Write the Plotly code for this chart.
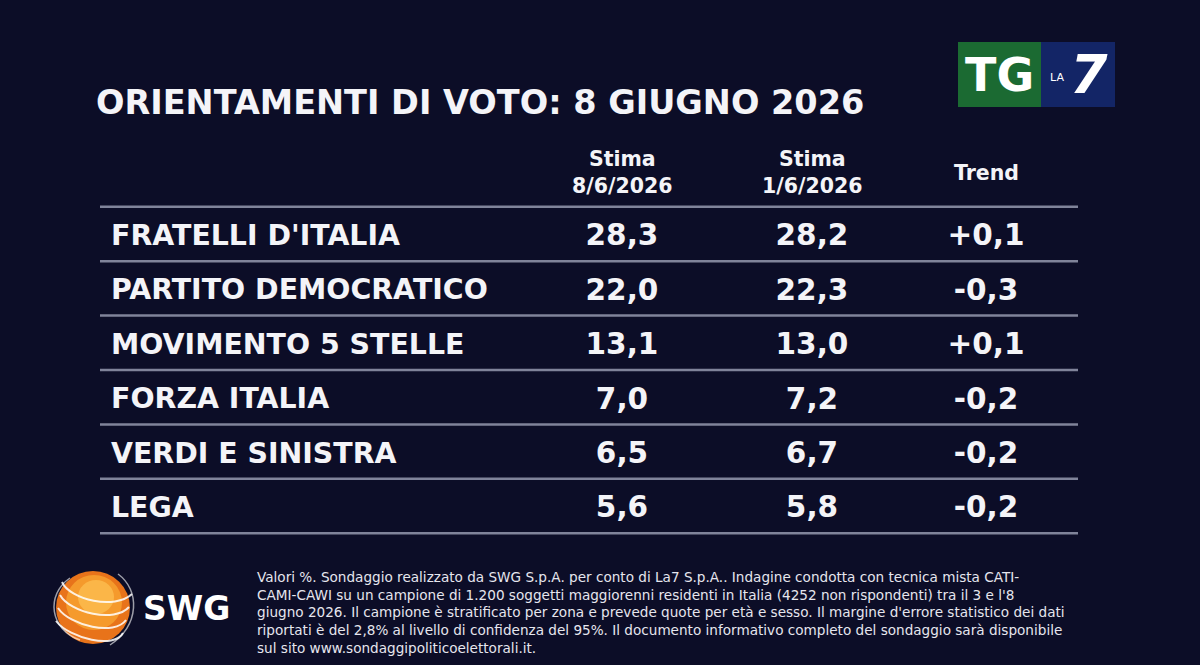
import plotly.graph_objects as go

# dati del sondaggio
partiti = ["FRATELLI D'ITALIA", "PARTITO DEMOCRATICO", "MOVIMENTO 5 STELLE",
           "FORZA ITALIA", "VERDI E SINISTRA", "LEGA"]
stima_8_6 = ["28,3", "22,0", "13,1", "7,0", "6,5", "5,6"]
stima_1_6 = ["28,2", "22,3", "13,0", "7,2", "6,7", "5,8"]
trend = ["+0,1", "-0,3", "+0,1", "-0,2", "-0,2", "-0,2"]
intestazioni = ["Stima<br>8/6/2026", "Stima<br>1/6/2026", "Trend"]

titolo = "ORIENTAMENTI DI VOTO: 8 GIUGNO 2026"
nota = ("Valori %. Sondaggio realizzato da SWG S.p.A. per conto di La7 S.p.A.. Indagine condotta con tecnica mista CATI-<br>"
        "CAMI-CAWI su un campione di 1.200 soggetti maggiorenni residenti in Italia (4252 non rispondenti) tra il 3 e l'8<br>"
        "giugno 2026. Il campione è stratificato per zona e prevede quote per età e sesso. Il margine d'errore statistico dei dati<br>"
        "riportati è del 2,8% al livello di confidenza del 95%. Il documento informativo completo del sondaggio sarà disponibile<br>"
        "sul sito www.sondaggipoliticoelettorali.it.")

# stile
SFONDO = "#0c0d27"
BIANCO = "#f4f4f8"
LINEA = "#80839a"
FONT = "DejaVu Sans"

# colonne (x in pixel) e righe (y in indice di riga)
X_NOME = 111
X_COL = [622, 812, 986]
RIGA0_PX = 238
PASSO_PX = 54.4
SPOST_LINEE = 4 / PASSO_PX  # le linee stanno un po' più in alto del centro testo
W, H = 1200, 665

righe = list(range(len(partiti)))

fig = go.Figure()

# nomi dei partiti
fig.add_trace(go.Scatter(
    x=[X_NOME] * len(partiti), y=righe, text=partiti, mode="text",
    textposition="middle right",
    textfont=dict(family=FONT, size=28.4, color=BIANCO, weight="bold"),
    hoverinfo="skip", showlegend=False,
))

# valori delle tre colonne
for xc, col in zip(X_COL, [stima_8_6, stima_1_6, trend]):
    fig.add_trace(go.Scatter(
        x=[xc] * len(col), y=righe, text=col, mode="text",
        textposition="middle center",
        textfont=dict(family=FONT, size=29.5, color=BIANCO, weight="bold"),
        hoverinfo="skip", showlegend=False,
    ))

# linee tra le righe
for i in range(len(partiti) + 1):
    yl = i - 0.5 - SPOST_LINEE
    fig.add_shape(type="line", xref="x", yref="y", x0=100, x1=1078,
                  y0=yl, y1=yl, line=dict(color=LINEA, width=2.5))

# intestazioni
for xc, txt, ypx in zip(X_COL, intestazioni, [172, 172, 173]):
    fig.add_annotation(x=xc, y=ypx, xref="x", yref="y2", text=f"<b>{txt}</b>",
                       showarrow=False, font=dict(family=FONT, size=20.5, color=BIANCO))

# titolo
fig.add_annotation(x=94, y=102, xref="x", yref="y2", text=f"<b>{titolo}</b>",
                   xanchor="left", showarrow=False,
                   font=dict(family=FONT, size=33.5, color=BIANCO))

# logo TG LA7
fig.add_shape(type="rect", xref="x", yref="y2", x0=958, x1=1041, y0=42, y1=107,
              fillcolor="#1b6a32", line_width=0)
fig.add_shape(type="rect", xref="x", yref="y2", x0=1041, x1=1115, y0=42, y1=107,
              fillcolor="#132566", line_width=0)
fig.add_annotation(x=999, y=75, xref="x", yref="y2", text="<b>TG</b>", showarrow=False,
                   font=dict(family=FONT, size=46, color="white"))
fig.add_annotation(x=1057, y=77, xref="x", yref="y2", text="LA", showarrow=False,
                   font=dict(family=FONT, size=11, color="white"))
fig.add_annotation(x=1089, y=74, xref="x", yref="y2", text="<b><i>7</i></b>", showarrow=False,
                   font=dict(family=FONT, size=54, color="white"))

# logo SWG: sfera arancione con anelli
fig.add_shape(type="circle", xref="x", yref="y2", x0=56, x1=130, y0=571, y1=644,
              fillcolor="#e8731a", line_width=0)
fig.add_shape(type="circle", xref="x", yref="y2", x0=66, x1=122, y0=575, y1=630,
              fillcolor="#f59a2c", line_width=0)
fig.add_shape(type="circle", xref="x", yref="y2", x0=78, x1=114, y0=580, y1=614,
              fillcolor="#fbb648", line_width=0)
for k in range(4):
    dy = k * 13
    fig.add_shape(type="path", xref="x", yref="y2",
                  path=f"M {62 - k * 2} {582 + dy} C {70} {600 + dy}, {115} {610 + dy}, {132 - k * 3} {594 + dy}",
                  line=dict(color="rgba(255,255,255,0.85)", width=2))
fig.add_shape(type="path", xref="x", yref="y2",
              path="M 118 574 C 140 590, 140 625, 110 645",
              line=dict(color="rgba(255,255,255,0.6)", width=1.5))
fig.add_shape(type="path", xref="x", yref="y2",
              path="M 70 578 C 45 595, 50 630, 80 640",
              line=dict(color="rgba(255,255,255,0.6)", width=1.5))
fig.add_annotation(x=186, y=608, xref="x", yref="y2", text="<b>SWG</b>", showarrow=False,
                   font=dict(family=FONT, size=33, color="white"))

# nota metodologica
fig.add_annotation(x=255, y=612, xref="x", yref="y2", text=nota, xanchor="left",
                   align="left", showarrow=False,
                   font=dict(family=FONT, size=13.6, color="#e6e6ee"))

# assi: x in pixel, y in righe, y2 in pixel
y_top = (0 - RIGA0_PX) / PASSO_PX
y_bot = (H - RIGA0_PX) / PASSO_PX
fig.update_layout(
    width=W, height=H,
    margin=dict(l=0, r=0, t=0, b=0),
    paper_bgcolor=SFONDO, plot_bgcolor=SFONDO,
    xaxis=dict(range=[0, W], visible=False, fixedrange=True),
    yaxis=dict(range=[y_bot, y_top], visible=False, fixedrange=True),
    yaxis2=dict(range=[H, 0], visible=False, overlaying="y", fixedrange=True),
)

# niente margine della pagina, così la figura riempie la finestra
fig.write_html("out.html", config=dict(displayModeBar=False),
               post_script="document.body.style.margin='0';document.body.style.background='#0c0d27';")
